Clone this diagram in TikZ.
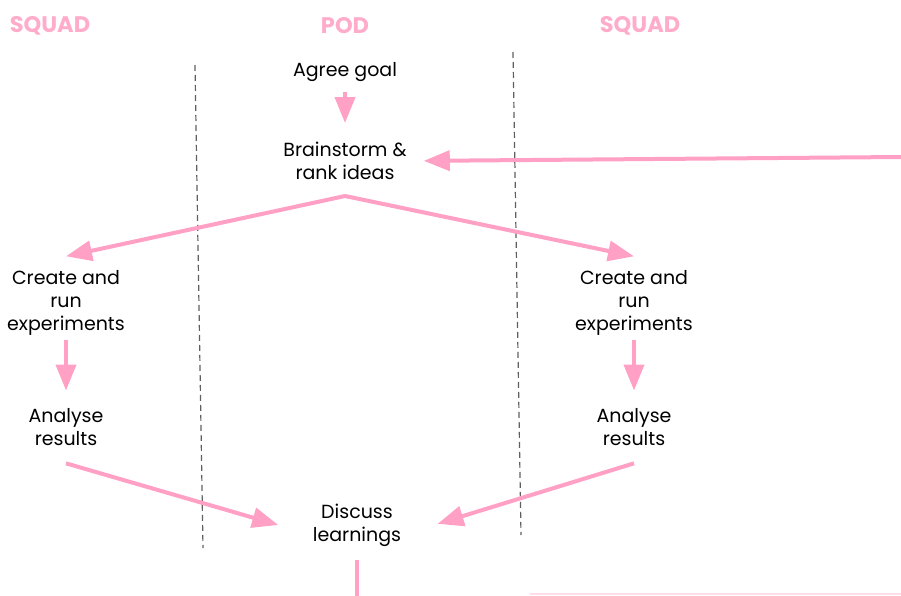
\documentclass[tikz,border=0pt]{standalone}
\usepackage{fontspec}
\setmainfont{Poppins}
\usetikzlibrary{arrows.meta,calc,positioning}
\definecolor{podpink}{RGB}{255,160,196}
\definecolor{headpink}{RGB}{255,172,202}
\definecolor{lanegray}{RGB}{95,95,95}
\tikzset{
  flow/.style={draw=podpink, line width=4pt, -{Triangle[length=26pt,width=20pt]}},
  stage/.style={align=center, inner sep=0pt, font=\fontsize{19}{23}\selectfont},
  lane/.style={inner sep=0pt, text=headpink, font=\bfseries\fontsize{22.5}{26}\selectfont},
  divider/.style={draw=lanegray, line width=1.2pt, dash pattern=on 6pt off 4pt}
}

\begin{document}
\begin{tikzpicture}[x=1pt,y=-1pt]
	\useasboundingbox (0,0) rectangle (901,595);
	%%%%%%%%%% cabeçalhos %%%%%%%%%%
	\node[lane] (squadL) at (50,26) {SQUAD};
	\node[lane] (pod) at (345,26) {POD};
	\node[lane] (squadR) at (640,26) {SQUAD};
	
	%%%%%%%%%% separadores %%%%%%%%%%
	\draw[divider] (195,65) -- (203,548);
	\draw[divider] (513,52) -- (521,535);
	
	%%%%%%%%%% etapas %%%%%%%%%%
	\node[stage] (goal) at (345,72.5) {Agree goal};
	\node[stage] (brain) at (345,161) {Brainstorm \&\\rank ideas};
	\node[stage] (createL) at (66,303) {Create and\\run\\experiments};
	\node[stage] (createR) at (634,303) {Create and\\run\\experiments};
	\node[stage] (anaL) at (66,427.5) {Analyse\\results};
	\node[stage] (anaR) at (634,427.5) {Analyse\\results};
	\node[stage] (disc) at (357,525) {Discuss\\learnings};
	\coordinate (split) at (345,196);
	\coordinate (edge) at (901,157);
	\coordinate (out) at (357,600);
	
	%%%%%%%%%% setas %%%%%%%%%%
	\draw[flow, shorten <=19pt, shorten >=38pt] (goal.center) -- (brain.center);
	\draw[flow, shorten >=17pt] (edge) -- (brain.east);
	\draw[flow, line cap=round] (split) -- ([yshift=14pt]createL.north);
	\draw[flow, line cap=round] (split) -- ([yshift=14pt]createR.north);
	\draw[flow, shorten <=37pt, shorten >=37pt] (createL.center) -- (anaL.center);
	\draw[flow, shorten <=37pt, shorten >=37pt] (createR.center) -- (anaR.center);
	\draw[flow, shorten >=36pt] ([yshift=-17pt]anaL.south) -- ([yshift=-10pt]disc.west);
	\draw[flow, shorten >=38pt] ([yshift=-17pt]anaR.south) -- ([yshift=-10pt]disc.east);
	\draw[podpink, line width=4pt, shorten <=35pt] (disc.center) -- (out);
	\draw[podpink!35, line width=1.5pt] (530,594) -- (901,594);
\end{tikzpicture}
\end{document}
